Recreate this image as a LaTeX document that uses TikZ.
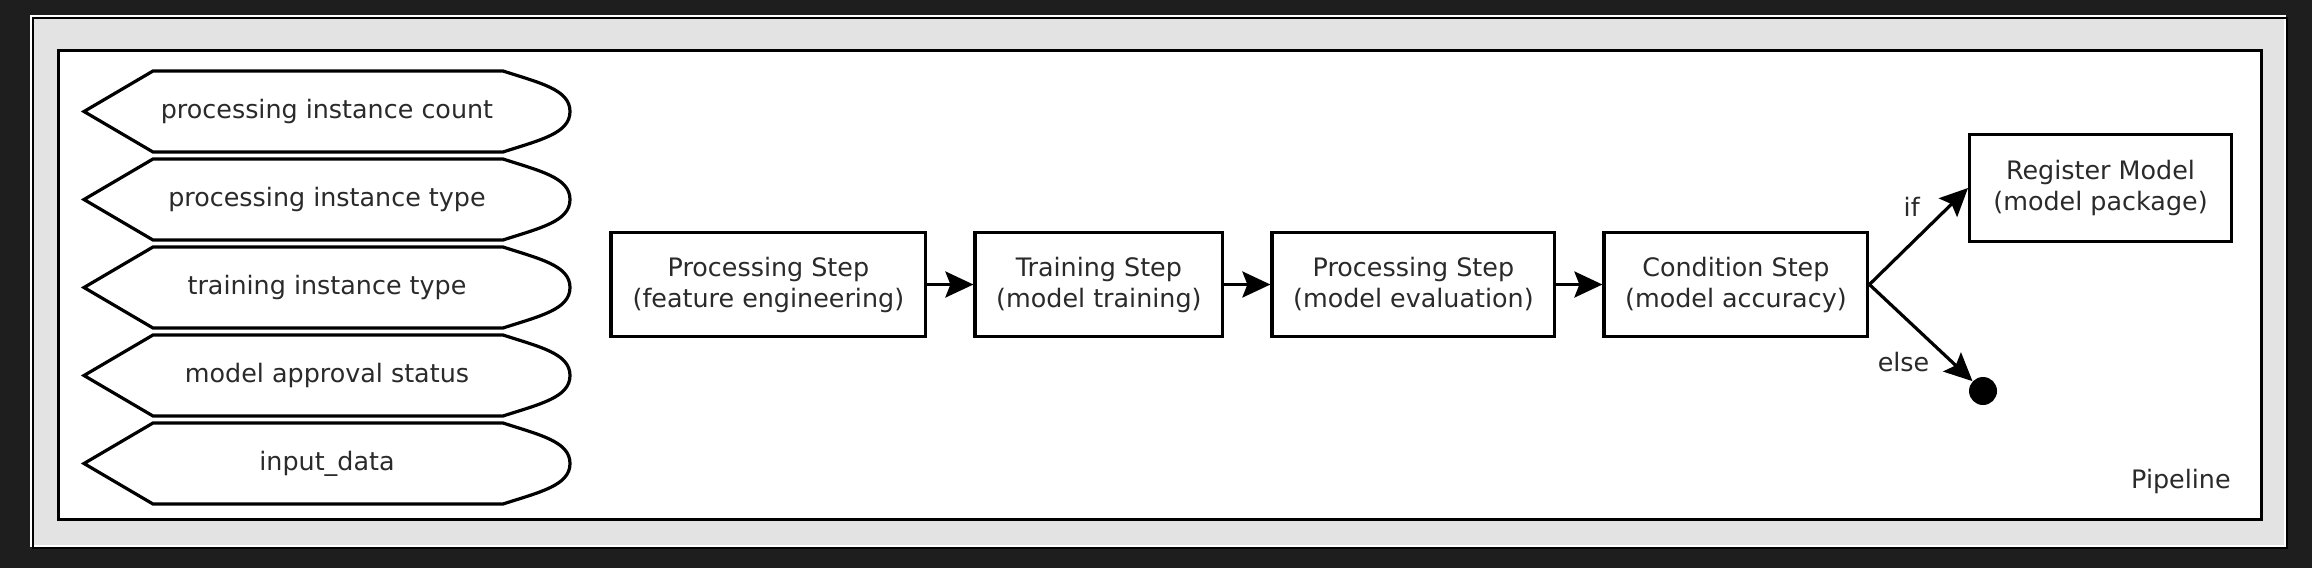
\documentclass[tikz,border=0pt]{standalone}
\usepackage{fontspec}
\setmainfont{DejaVu Sans}
\usepackage{xcolor}
\usepackage{tikz}
\usetikzlibrary{matrix,shapes,arrows,arrows.meta,positioning,calc}

\definecolor{screenbg}{HTML}{1E1E1E}
\definecolor{framegrey}{HTML}{E3E3E3}
\definecolor{textgrey}{HTML}{2A2A2A}

\tikzset{
    stepbox/.style={draw, line width=1.6pt, inner sep=0pt, minimum height=51.9pt, align=center, text=textgrey},
    parambox/.style={inner sep=0pt, outer sep=0pt, minimum width=243pt, minimum height=40.5pt, text=textgrey},
    paramline/.style={line width=1.6pt},
    flow/.style={line width=1.6pt, -{Stealth[length=14pt,width=13pt,inset=2.5pt]}},
    edgelabel/.style={inner sep=0pt, text=textgrey},
}

% outline of a parameter node: pointed on the left, bulged on the right
\newcommand{\paramoutline}[1]{%
    \draw[paramline] (#1.west) -- ([xshift=34.5pt]#1.north west) -- ([xshift=-33.5pt]#1.north east)
        .. controls ([xshift=-15pt,yshift=-6pt]#1.north east) and ([yshift=11pt]#1.east) .. (#1.east)
        .. controls ([yshift=-11pt]#1.east) and ([xshift=-15pt,yshift=6pt]#1.south east) .. ([xshift=-33.5pt]#1.south east)
        -- ([xshift=34.5pt]#1.south west) -- cycle;}

\begin{document}
\begin{tikzpicture}[x=0.5pt, y=-0.5pt, font=\fontsize{12.7pt}{15.5pt}\selectfont]
        \fill[screenbg] (0,0) rectangle (2312,568);
        \useasboundingbox (0,0) rectangle (2312,568);

        % window frame with its bevel lines
        \fill[framegrey] (33,18) rectangle (2287,548);
        \draw[white, line width=0.6pt] (31,16) rectangle (2285,546);
        \draw[black, line width=1.2pt] (33,18) rectangle (2287,548);

        % the pipeline cluster
        \node[draw, fill=white, line width=1.6pt, inner sep=0pt, minimum width=1101.4pt, minimum height=234.4pt] (pipeline) at (1160,285) {};
        \node[edgelabel, anchor=base east] (pipelinelabel) at ([xshift=-16pt, yshift=16.5pt]pipeline.south east) {Pipeline};

        % parameters - matrix cells are params-x-1
        \matrix (params) [matrix of nodes, row sep=3.5pt, inner sep=0pt, nodes={parambox}] at (327,287.5) {
            processing instance count   \\
            processing instance type    \\
            training instance type      \\
            model approval status       \\
            input\_data                 \\
        };
        \paramoutline{params-1-1}
        \paramoutline{params-2-1}
        \paramoutline{params-3-1}
        \paramoutline{params-4-1}
        \paramoutline{params-5-1}

        % the steps in one row
        \matrix (steps) [column sep=23pt, inner sep=0pt, anchor=west] at (609,284.5) {
            \node[stepbox, minimum width=157.4pt] (prep) {Processing Step\\(feature engineering)};   &
            \node[stepbox, minimum width=123.9pt] (train) {Training Step\\(model training)};        &
            \node[stepbox, minimum width=141.4pt] (eval) {Processing Step\\(model evaluation)};     &
            \node[stepbox, minimum width=131.9pt] (cond) {Condition Step\\(model accuracy)};       \\
        };

        \node[stepbox, minimum width=130.9pt, minimum height=53.4pt] (register) at (2100.5,188) {Register Model\\(model package)};
        \node[circle, fill=black, inner sep=0pt, minimum size=14pt] (done) at (1983,391) {};

        \draw[flow] (prep) -- (train);
        \draw[flow] (train) -- (eval);
        \draw[flow] (eval) -- (cond);
        \draw[flow] (cond.east) -- (register.west) node[edgelabel, pos=0.8, left=13.5pt] (iflabel) {if};       % branch taken
        \draw[flow] (cond.east) -- (done) node[edgelabel, pos=0.8, left=10.5pt] (elselabel) {else};          % branch not taken
    \end{tikzpicture}
\end{document}
